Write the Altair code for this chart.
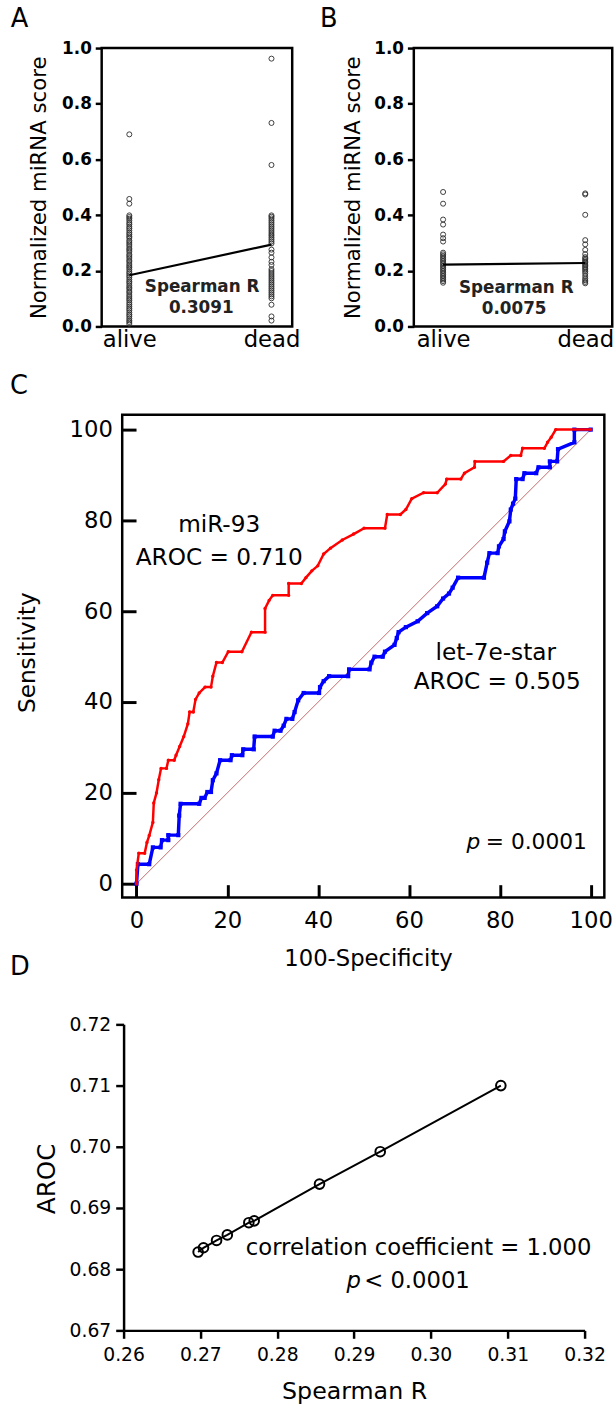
import altair as alt
import pandas as pd

FONT = "DejaVu Sans"

# ---------------- data ----------------
groups = ["alive", "dead"]
panel_letters = ["A", "B", "C", "D"]

# Panel A (normalized miRNA score, miR-93)
a_alive = [0.69, 0.458, 0.441, 0.399, 0.393, 0.387, 0.380, 0.372, 0.366, 0.358, 0.352,
           0.345, 0.337, 0.331, 0.324, 0.318, 0.309, 0.303, 0.296, 0.289, 0.281, 0.275,
           0.268, 0.259, 0.253, 0.246, 0.238, 0.232, 0.224, 0.217, 0.211, 0.204, 0.196,
           0.190, 0.183, 0.177, 0.169, 0.162, 0.156, 0.148, 0.141, 0.135, 0.127, 0.121,
           0.113, 0.106, 0.099, 0.093, 0.085, 0.078, 0.071, 0.064, 0.058, 0.050, 0.043,
           0.037, 0.029, 0.022, 0.016, 0.009]
a_dead = [0.962, 0.731, 0.580, 0.399, 0.394, 0.388, 0.381, 0.374, 0.367, 0.360, 0.353,
          0.346, 0.339, 0.332, 0.326, 0.319, 0.312, 0.305, 0.298, 0.276, 0.265, 0.248,
          0.232, 0.221, 0.206, 0.199, 0.192, 0.185, 0.178, 0.171, 0.164, 0.157, 0.150,
          0.143, 0.136, 0.129, 0.122, 0.115, 0.108, 0.101, 0.078, 0.036, 0.021]
a_line = [0.184, 0.294]
a_r = "0.3091"

# Panel B (normalized miRNA score, let-7e-star)
b_alive = [0.483, 0.441, 0.384, 0.366, 0.330, 0.317, 0.305, 0.265, 0.259, 0.253, 0.247,
           0.241, 0.235, 0.229, 0.223, 0.217, 0.211, 0.205, 0.199, 0.193, 0.187, 0.181,
           0.175, 0.169, 0.163, 0.157]
b_dead = [0.478, 0.474, 0.401, 0.310, 0.295, 0.275, 0.260, 0.249, 0.244, 0.239, 0.234,
          0.229, 0.224, 0.219, 0.214, 0.209, 0.203, 0.197, 0.190, 0.181, 0.172, 0.166,
          0.160, 0.155]
b_line = [0.222, 0.228]
b_r = "0.0075"

# Panel C (ROC curves, 100-specificity vs sensitivity)
red_x = [0, 0, 0.5, 1.8, 2.3, 2.8, 3.6, 3.8, 4.4, 4.9, 5.4, 6.6, 7.0, 8.3, 8.7, 9.5, 10.4,
         11.3, 11.7, 12.5, 13.0, 13.8, 15.1, 16.4, 16.8, 17.6, 18.9, 20.2, 23.2, 25.3, 28.3,
         28.3, 29.2, 30.0, 33.5, 33.5, 36.3, 37.3, 38.6, 39.9, 41.2, 42.7, 45.3, 47.8, 50.1,
         54.7, 55.2, 58.1, 59.3, 60.6, 63.2, 66.2, 68.0, 68.3, 71.4, 72.2, 74.4, 74.5, 80.8,
         82.4, 84.6, 85.0, 89.8, 90.5, 91.3, 92.3, 100]
red_y = [0, 3.0, 6.7, 6.7, 9.1, 10.6, 13.5, 17.8, 20.0, 22.9, 25.4, 25.4, 27.2, 27.2, 28.3,
         30.2, 32.4, 35.2, 37.8, 37.8, 40.6, 42.0, 43.3, 43.3, 45.7, 48.7, 48.7, 51.1, 51.1,
         55.4, 55.4, 60.6, 62.4, 63.5, 63.5, 66.1, 66.1, 67.4, 68.9, 70.0, 72.6, 73.9, 75.7,
         77.0, 78.3, 78.3, 81.3, 81.3, 82.4, 84.8, 86.1, 86.1, 88.0, 89.1, 89.1, 90.4, 91.7,
         93.0, 93.0, 94.3, 94.3, 95.9, 95.9, 97.2, 98.3, 100, 100]
blue_x = [0, 0.3, 2.8, 3.6, 5.3, 5.6, 7.0, 7.0, 9.2, 9.4, 9.7, 13.8, 14.3, 15.0, 15.6, 16.4,
          16.8, 17.6, 18.4, 20.7, 21.0, 23.3, 23.5, 25.8, 26.0, 30.0, 30.4, 31.7, 32.4, 33.0,
          34.3, 34.8, 35.6, 36.8, 40.2, 40.4, 41.2, 42.4, 46.6, 46.8, 51.3, 51.7, 52.4, 54.2,
          54.7, 56.8, 57.3, 57.7, 59.3, 61.9, 64.0, 66.2, 67.5, 68.8, 69.6, 70.8, 76.5, 77.2,
          77.7, 79.5, 79.8, 80.8, 81.1, 82.1, 82.4, 82.9, 83.4, 83.6, 85.0, 85.4, 88.0, 88.5,
          91.0, 91.0, 92.6, 92.8, 96.4, 96.4, 100]
blue_y = [0, 4.3, 4.3, 8.0, 8.0, 9.6, 9.6, 10.7, 10.7, 15.0, 17.6, 17.6, 18.9, 18.9, 20.2,
          20.2, 22.8, 24.3, 27.2, 27.2, 28.3, 28.3, 29.6, 29.6, 32.4, 32.4, 33.7, 33.7, 34.8,
          36.3, 36.3, 37.8, 40.4, 42.0, 42.0, 43.3, 44.6, 45.7, 45.7, 47.2, 47.2, 48.7, 50.0,
          50.0, 51.1, 52.6, 54.1, 55.4, 56.5, 57.8, 59.6, 61.1, 62.8, 63.9, 65.2, 67.4, 67.4,
          70.7, 72.8, 72.8, 74.3, 75.9, 77.6, 79.8, 82.4, 83.7, 84.8, 89.1, 89.1, 90.4, 90.4,
          91.7, 91.7, 93.0, 93.0, 95.7, 97.2, 100, 100]
diag_vals = [0, 100]
roc_ticks = [0, 20, 40, 60, 80, 100]
red_label = ["miR-93", "AROC = 0.710"]
blue_label = ["let-7e-star", "AROC = 0.505"]
p_label = "= 0.0001"

# Panel D (Spearman R vs AROC)
d_spearman = [0.2697, 0.2704, 0.2721, 0.2735, 0.2763, 0.2770, 0.2855, 0.2934, 0.3091]
d_aroc = [0.6828, 0.6835, 0.6847, 0.6856, 0.6876, 0.6879, 0.6939, 0.6992, 0.7100]
d_xticks = [0.26, 0.27, 0.28, 0.29, 0.30, 0.31, 0.32]
d_yticks = [0.67, 0.68, 0.69, 0.70, 0.71, 0.72]
d_label = "correlation coefficient = 1.000"
d_p_label = "< 0.0001"

FRAME = alt.ViewBackground(stroke="black", strokeWidth=2.5)
NOFRAME = alt.ViewBackground(stroke="transparent")


def letter_mark(t, px, py):
    # panel letter, placed relative to the panel's plot area (pixels)
    return alt.Chart(pd.DataFrame({"t": [t]})).mark_text(
        font=FONT, fontSize=26, color="black", align="left", baseline="alphabetic"
    ).encode(x=alt.value(px), y=alt.value(py), text="t:N")


def scatter_panel(alive, dead, line_vals, r_text, xdom, width, lab, txt_pos, title_x):
    df = pd.DataFrame({"g": [0] * len(alive) + [1] * len(dead), "score": alive + dead})
    ldf = pd.DataFrame({"g": [0, 1], "score": line_vals})
    tdf = pd.DataFrame({"g": [txt_pos[0][0], txt_pos[1][0]],
                        "score": [txt_pos[0][1], txt_pos[1][1]],
                        "t": ["Spearman R", r_text]})
    x = alt.X("g:Q", scale=alt.Scale(domain=xdom, nice=False, zero=False),
              axis=alt.Axis(values=[0, 1],
                            labelExpr=f"datum.value == 0 ? '{groups[0]}' : '{groups[1]}'",
                            ticks=False, domain=False, grid=False, title=None,
                            labelFont=FONT, labelFontSize=23, labelPadding=2,
                            labelFlush=False, labelColor="black"))
    y = alt.Y("score:Q", scale=alt.Scale(domain=[0, 1], nice=False, zero=False),
              axis=alt.Axis(values=[0, 0.2, 0.4, 0.6, 0.8, 1.0], format=".1f",
                            tickSize=6.5, tickWidth=2.5, tickColor="black",
                            domain=False, grid=False, labelFont=FONT, labelFontSize=17,
                            labelFontWeight="bold", labelPadding=4, labelColor="black",
                            title="Normalized miRNA score", titleFont=FONT,
                            titleFontSize=21.5, titleFontWeight="normal",
                            titleColor="black", titleX=title_x))
    pts = alt.Chart(df).mark_point(shape="circle", filled=False, size=26, strokeWidth=0.9,
                                   color="#2a2a2a", opacity=1).encode(x=x, y=y)
    line = alt.Chart(ldf).mark_line(color="black", strokeWidth=2.2).encode(x="g:Q", y="score:Q")
    txt = alt.Chart(tdf).mark_text(font=FONT, fontWeight="bold", fontSize=17,
                                   color="#222222", baseline="middle").encode(
        x="g:Q", y="score:Q", text="t:N")
    return alt.layer(pts, line, txt, lab).properties(width=width, height=282, view=FRAME)


panel_a = scatter_panel(a_alive, a_dead, a_line, a_r, [-0.1944, 1.1458], 193,
                        letter_mark(panel_letters[0], -92, -21),
                        [(0.512, 0.14), (0.506, 0.066)], -52.2)
panel_b = scatter_panel(b_alive, b_dead, b_line, b_r, [-0.206, 1.19], 201,
                        letter_mark(panel_letters[1], -95, -21),
                        [(0.515, 0.139), (0.50, 0.062)], -50.5)

# ---------------- panel C ----------------
red_df = pd.DataFrame({"x": red_x, "y": red_y, "i": list(range(len(red_x)))})
blue_df = pd.DataFrame({"x": blue_x, "y": blue_y, "i": list(range(len(blue_x)))})
diag_df = pd.DataFrame({"x": diag_vals, "y": diag_vals})

cx = alt.X("x:Q", scale=alt.Scale(domain=[-3.15, 103.0], nice=False, zero=False),
           axis=alt.Axis(values=roc_ticks, offset=-13, tickSize=13, tickWidth=3,
                         tickColor="black", domain=False, grid=False, labelFont=FONT,
                         labelFontSize=23, labelPadding=12, labelFlush=False,
                         labelColor="black", title="100-Specificity", titleFont=FONT,
                         titleFontSize=23, titleFontWeight="normal", titleColor="black",
                         titleY=63.6, titleX=249))
cy = alt.Y("y:Q", scale=alt.Scale(domain=[-3.04, 103.26], nice=False, zero=False),
           axis=alt.Axis(values=roc_ticks, offset=-14, tickSize=14, tickWidth=3,
                         tickColor="black", domain=False, grid=False, labelFont=FONT,
                         labelFontSize=23, labelPadding=10, labelColor="black",
                         title="Sensitivity", titleFont=FONT, titleFontSize=23.5,
                         titleFontWeight="normal", titleColor="black",
                         titleX=-97.7, titleY=240.5))

diag = alt.Chart(diag_df).mark_line(color="#b85a5a", strokeWidth=0.9).encode(x=cx, y=cy)
blue_line = alt.Chart(blue_df).mark_line(color="#0000ff", strokeWidth=3.5).encode(
    x="x:Q", y="y:Q", order="i:Q")
blue_pts = alt.Chart(blue_df).mark_square(color="#0000ff", size=18, opacity=1).encode(
    x="x:Q", y="y:Q")
red_line = alt.Chart(red_df).mark_line(color="#ff0000", strokeWidth=2.5).encode(
    x="x:Q", y="y:Q", order="i:Q")
red_pts = alt.Chart(red_df).mark_circle(color="#ff0000", size=12, opacity=1).encode(
    x="x:Q", y="y:Q")

c_text_df = pd.DataFrame({
    "x": [18.2, 18.2, 79.1, 79.4],
    "y": [79.0, 71.8, 50.8, 44.3],
    "t": red_label + blue_label,
})
c_text = alt.Chart(c_text_df).mark_text(font=FONT, fontSize=23.5, color="black",
                                        baseline="middle").encode(x="x:Q", y="y:Q", text="t:N")
c_p = alt.Chart(pd.DataFrame({"x": [75.7], "y": [9.2], "t": ["p"]})).mark_text(
    font=FONT, fontSize=22, fontStyle="italic", color="black", align="right",
    baseline="middle").encode(x="x:Q", y="y:Q", text="t:N")
c_pv = alt.Chart(pd.DataFrame({"x": [76.9], "y": [9.2], "t": [p_label]})).mark_text(
    font=FONT, fontSize=22, color="black", align="left",
    baseline="middle").encode(x="x:Q", y="y:Q", text="t:N")

panel_c = alt.layer(diag, blue_line, blue_pts, red_line, red_pts, c_text, c_p, c_pv,
                    letter_mark(panel_letters[2], -113.6, -21)).properties(
    width=488.4, height=489, view=FRAME)

# ---------------- panel D ----------------
d_df = pd.DataFrame({"r": d_spearman, "a": d_aroc})
dx_enc = alt.X("r:Q", scale=alt.Scale(domain=[0.26, 0.32], nice=False, zero=False),
               axis=alt.Axis(values=d_xticks, format=".2f", tickSize=8, tickWidth=2.5,
                             tickColor="black", domainColor="black", domainWidth=2.5,
                             grid=False, labelFont=FONT, labelFontSize=19, labelPadding=8,
                             labelFlush=False, labelColor="black", title="Spearman R",
                             titleFont=FONT, titleFontSize=24, titleFontWeight="normal",
                             titleColor="black", titleY=50.5))
dy_enc = alt.Y("a:Q", scale=alt.Scale(domain=[0.67, 0.72], nice=False, zero=False),
               axis=alt.Axis(values=d_yticks, format=".2f", tickSize=8, tickWidth=2.5,
                             tickColor="black", domainColor="black", domainWidth=2.5,
                             grid=False, labelFont=FONT, labelFontSize=19, labelPadding=5,
                             labelFlush=False, labelColor="black", title="AROC",
                             titleFont=FONT, titleFontSize=25, titleFontWeight="normal",
                             titleColor="black", titleX=-64.75, titleY=156))
d_line = alt.Chart(d_df).mark_line(color="black", strokeWidth=2).encode(x=dx_enc, y=dy_enc)
d_pts = alt.Chart(d_df).mark_point(shape="circle", filled=False, size=95, strokeWidth=2,
                                   color="black", opacity=1).encode(x="r:Q", y="a:Q")
d_text = alt.Chart(pd.DataFrame({"r": [0.2984], "a": [0.6835], "t": [d_label]})).mark_text(
    font=FONT, fontSize=23, color="black", baseline="middle").encode(x="r:Q", y="a:Q", text="t:N")
d_p = alt.Chart(pd.DataFrame({"r": [0.29088], "a": [0.6780], "t": ["p"]})).mark_text(
    font=FONT, fontSize=23, fontStyle="italic", color="black", align="right",
    baseline="middle").encode(x="r:Q", y="a:Q", text="t:N")
d_pv = alt.Chart(pd.DataFrame({"r": [0.29131], "a": [0.6780], "t": [d_p_label]})).mark_text(
    font=FONT, fontSize=23, color="black", align="left",
    baseline="middle").encode(x="r:Q", y="a:Q", text="t:N")

panel_d = alt.layer(d_line, d_pts, d_text, d_p, d_pv,
                    letter_mark(panel_letters[3], -115, -50)).properties(
    width=467, height=310, view=NOFRAME)


# ---------------- layout ----------------
def spacer():
    return alt.Chart(pd.DataFrame({"s": [0]})).mark_point(opacity=0).encode(
        x=alt.X("s:Q", axis=None), y=alt.Y("s:Q", axis=None)
    ).properties(width=1, height=1, view=NOFRAME)


row1 = alt.hconcat(panel_a, panel_b, spacing=17.2)
row_c = alt.hconcat(spacer(), panel_c, spacing=-99.2)
row_d = alt.hconcat(spacer(), panel_d, spacing=-99.8)
top = alt.vconcat(row1, row_c, spacing=18.5)
chart = alt.vconcat(top, row_d, spacing=-20).properties(
    padding={"left": 8, "top": -4.5, "right": 0, "bottom": 0},
    background="white",
).configure_view(stroke="black", strokeWidth=2.5)

chart.save("out.html", embed_options={"renderer": "svg", "actions": False})
